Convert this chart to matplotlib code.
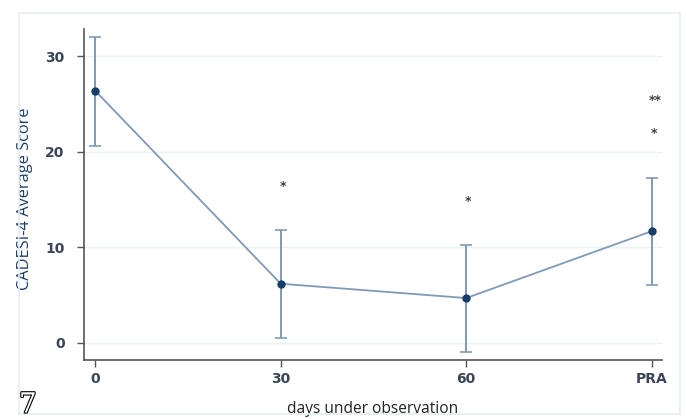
import matplotlib
matplotlib.use("Agg")
import matplotlib.pyplot as plt
import matplotlib.patheffects as pe
from matplotlib.patches import Rectangle

# data
categories = ["0", "30", "60", "PRA"]
means = [26.4, 6.2, 4.7, 11.7]
upper = [32.0, 11.8, 10.3, 17.3]
lower = [20.6, 0.5, -0.9, 6.1]
star_labels = ["", "*", "*", "*"]
star_heights = [None, 16.4, 14.8, 21.9]
extra_star = "**"
extra_star_height = 25.4

line_col = "#7f9ab6"
marker_col = "#163f68"
text_col = "#3a4658"

fig = plt.figure(figsize=(6.86, 4.19), dpi=100)
fig.patch.set_facecolor("white")

# light outer frame (graph region)
fig.patches.append(Rectangle((19 / 686, 5 / 419), (680 - 19) / 686, (406 - 5) / 419,
                             transform=fig.transFigure, fill=False,
                             edgecolor="#e3efef", linewidth=1.2))

ax = fig.add_axes([84 / 686, 59 / 419, (662 - 84) / 686, (390 - 59) / 419])

x = list(range(len(categories)))
err_lo = [m - l for m, l in zip(means, lower)]
err_hi = [u - m for m, u in zip(means, upper)]

ax.errorbar(x, means, yerr=[err_lo, err_hi], fmt="none", ecolor=line_col,
            elinewidth=1.4, capsize=4, capthick=1.2, zorder=2)
ax.plot(x, means, color=line_col, linewidth=1.3, zorder=3)
ax.plot(x, means, "o", color=marker_col, markersize=5, zorder=4)

for xi, s, h in zip(x, star_labels, star_heights):
    if s:
        ax.text(xi + 0.01, h, s, ha="center", va="center", fontsize=9,
                fontweight="bold", color="#3a3f4a")
ax.text(x[-1] + 0.02, extra_star_height, extra_star, ha="center", va="center",
        fontsize=9, fontweight="bold", color="#3a3f4a")

ax.set_xlim(-0.06, 3.055)
ax.set_ylim(-1.78, 32.85)
ax.set_xticks(x)
ax.set_xticklabels(categories)
ax.set_yticks([0, 10, 20, 30])

ax.yaxis.grid(True, color="#eaf3f3", linewidth=1.0)
ax.set_axisbelow(True)

for side in ["top", "right"]:
    ax.spines[side].set_visible(False)
for side in ["left", "bottom"]:
    ax.spines[side].set_color("#555555")
    ax.spines[side].set_linewidth(1.2)

ax.tick_params(axis="both", colors="#555555", length=5, width=1.0,
               labelsize=10, labelcolor=text_col)
ax.tick_params(axis="y", pad=9)
for lab in ax.get_xticklabels() + ax.get_yticklabels():
    lab.set_fontfamily("DejaVu Sans")
    lab.set_fontweight("bold")

ax.set_ylabel("CADESI-4 Average Score", fontsize=11.8, color="#1f3d6b",
              fontfamily="Open Sans")
ax.yaxis.set_label_coords(-0.088, 0.486)
ax.set_xlabel("days under observation", fontsize=11.2, color="#222222",
              fontfamily="Open Sans")
ax.xaxis.set_label_coords(0.5, -0.125)

fig.text(19 / 686, 1 - 405 / 419, "7", fontsize=20, fontfamily="DejaVu Serif",
         color="white", ha="left", va="center",
         path_effects=[pe.withStroke(linewidth=1.6, foreground="black")])

fig.savefig("out.png", dpi=100)
